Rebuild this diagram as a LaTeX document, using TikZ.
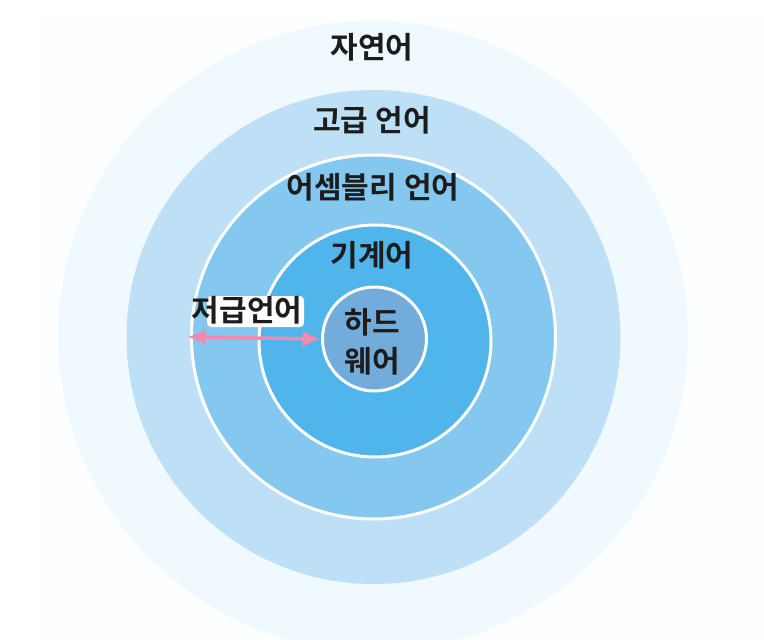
\documentclass[tikz,border=0pt]{standalone}
\usepackage{fontspec}
\newfontfamily\kr{Noto Sans CJK KR}[BoldFont={Noto Sans CJK KR Bold}]
\usetikzlibrary{arrows.meta}
\definecolor{bgpale}{HTML}{FCFEFF}
\definecolor{faint}{HTML}{F0F9FD}
\definecolor{highc}{HTML}{BEE0F6}
\definecolor{asmc}{HTML}{84C8F0}
\definecolor{machc}{HTML}{50B5EA}
\definecolor{hwc}{HTML}{72ACDB}
\definecolor{pinkc}{HTML}{F08AB0}
\definecolor{txt}{HTML}{1C1C1C}
\tikzset{
  ring/.style={circle, inner sep=0pt, outer sep=0pt, minimum size=#1},
  whiteedge/.style={draw=white, line width=3pt},
  lbl/.style={font=\kr\bfseries\fontsize{30}{33}\selectfont, text=txt, inner sep=0pt},
  pinkarrow/.style={draw=pinkc, line width=3.5pt, {Latex[length=18pt,width=17pt]}-{Latex[length=18pt,width=17pt]}},
}
\begin{document}
\begin{tikzpicture}[x=1pt,y=-1pt]
\useasboundingbox (0,0) rectangle (764,640);
\fill[white] (0,0) rectangle (764,640);
\fill[bgpale] (43,13) rectangle (764,640);
\node[ring=630pt, fill=faint] (nat) at (373,336) {};
\node[ring=494pt, fill=highc] (high) at (373.5,337) {};
\node[ring=364pt, fill=asmc, whiteedge] (asm) at (373.5,337) {};
\node[ring=232pt, fill=machc, whiteedge] (mach) at (375,341) {};
\node[ring=104pt, fill=hwc, whiteedge] (hw) at (374.5,339) {};
\node[lbl] (tnat) at (372,47) {자연어};
\node[lbl] (thigh) at (372,120) {고급 언어};
\node[lbl] (tasm) at (373,187) {어셈블리 언어};
\node[lbl] (tmach) at (372,255) {기계어};
\node[lbl] (thw1) at (372,322) {하드};
\node[lbl] (thw2) at (372,361) {웨어};
\fill[white, rounded corners=4pt] (207,296) rectangle (304,327);
\node[lbl] (tlow) at (247,310) {저급언어};
\draw[pinkarrow, shorten <=-4pt, shorten >=2pt] (asm.west) -- (hw.west);
\end{tikzpicture}
\end{document}
